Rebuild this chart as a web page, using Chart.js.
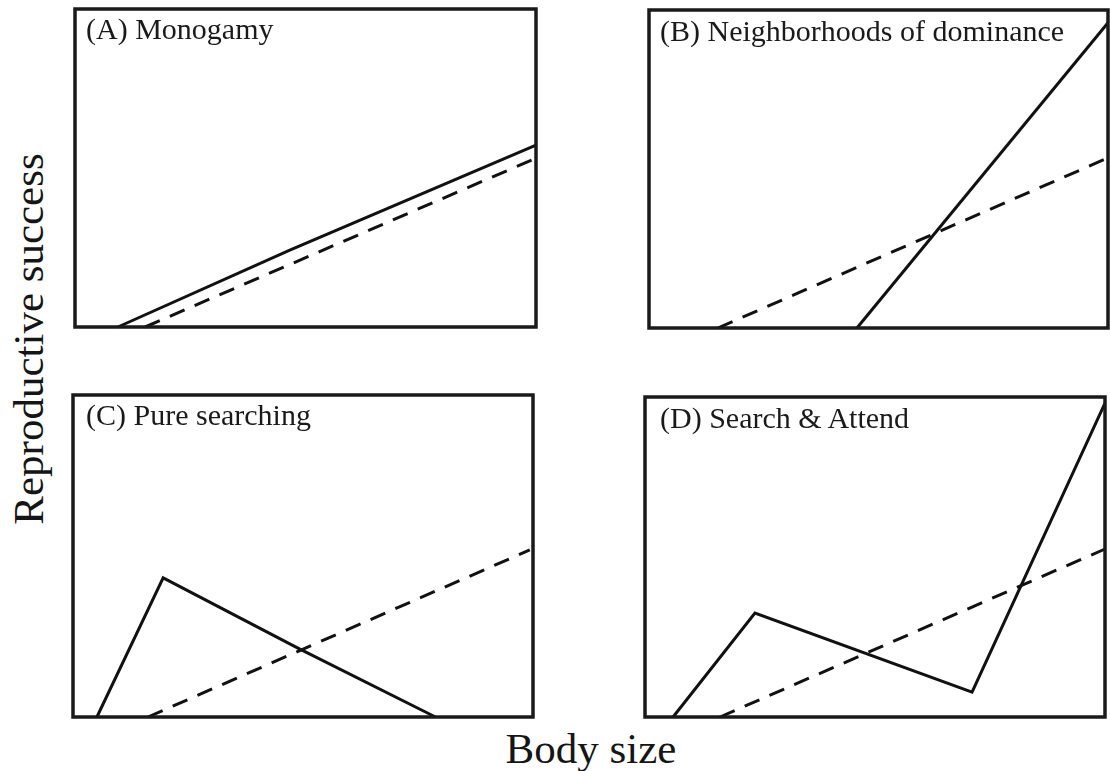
<!DOCTYPE html>
<html>
<head>
<meta charset="utf-8">
<script src="https://cdn.jsdelivr.net/npm/chart.js@4"></script>
<style>
  html, body { margin: 0; padding: 0; background: #fff; }
  body { width: 1110px; height: 771px; position: relative; overflow: hidden; font-family: 'Liberation Serif', 'DejaVu Serif', serif; color: #151515; }
  .panel { position: absolute; }
  .lbl { position: absolute; font-size: 30px; line-height: 30px; white-space: nowrap; color: #1a1a1a; }
  .axis { position: absolute; font-size: 43px; line-height: 43px; white-space: nowrap; color: #151515; }
</style>
</head>
<body>
<div class="panel" id="pA" style="left:73px;top:7px;width:465px;height:322px"><canvas id="cA"></canvas></div>
<div class="panel" id="pB" style="left:647px;top:8px;width:463px;height:322px"><canvas id="cB"></canvas></div>
<div class="panel" id="pC" style="left:71px;top:393px;width:464px;height:326px"><canvas id="cC"></canvas></div>
<div class="panel" id="pD" style="left:643px;top:395px;width:464px;height:324px"><canvas id="cD"></canvas></div>

<div class="lbl" style="left:86px;top:14px">(A) Monogamy</div>
<div class="lbl" style="left:660px;top:16px">(B) Neighborhoods of dominance</div>
<div class="lbl" style="left:86px;top:400px">(C) Pure searching</div>
<div class="lbl" style="left:660px;top:403px">(D) Search &amp; Attend</div>

<div class="axis" style="left:591px;top:727px;transform:translateX(-50%)">Body size</div>
<div class="axis" style="left:28px;top:339px;transform:translate(-50%,-50%) rotate(-90deg)">Reproductive success</div>

<script>
// Body size (x, 0-100) and reproductive success (y, 0-100)
const panelTitles = ['(A) Monogamy', '(B) Neighborhoods of dominance', '(C) Pure searching', '(D) Search & Attend'];

const sizeA_solid = [9.3, 46.6, 100];
const rsA_solid   = [0, 24.2, 57.2];
const sizeA_dash  = [15.2, 100];
const rsA_dash    = [0, 53.1];

const sizeB_solid = [45.3, 100];
const rsB_solid   = [0, 96];
const sizeB_dash  = [15.0, 100];
const rsB_dash    = [0, 53.5];

const sizeC_solid = [5.2, 19.6, 48.9, 78.8];
const rsC_solid   = [0, 43.2, 21.4, 0];
const sizeC_dash  = [16.3, 99.3];
const rsC_dash    = [0, 51.9];

const sizeD_solid = [6.1, 23.9, 71.1, 100];
const rsD_solid   = [0, 32.5, 7.8, 98.1];
const sizeD_dash  = [16.3, 100];
const rsD_dash    = [0, 52.5];

function pts(xs, ys) { return xs.map((x, i) => ({ x: x, y: ys[i] })); }

const framePlugin = {
  id: 'frame',
  afterDraw(chart) {
    const a = chart.chartArea, ctx = chart.ctx;
    ctx.save();
    ctx.strokeStyle = '#1a1a1a';
    ctx.lineWidth = 3.5;
    ctx.strokeRect(a.left, a.top, a.right - a.left, a.bottom - a.top);
    ctx.restore();
  }
};

function makePanel(id, sx, sy, dx, dy) {
  new Chart(document.getElementById(id), {
    type: 'scatter',
    data: {
      datasets: [
        { data: pts(sx, sy), showLine: true, borderColor: '#111', borderWidth: 3, pointRadius: 0, fill: false, tension: 0, clip: 2 },
        { data: pts(dx, dy), showLine: true, borderColor: '#111', borderWidth: 3, borderDash: [16, 11], pointRadius: 0, fill: false, tension: 0, clip: 2 }
      ]
    },
    options: {
      responsive: true,
      maintainAspectRatio: false,
      animation: false,
      layout: { padding: 2 },
      plugins: { legend: { display: false }, tooltip: { enabled: false }, title: { display: false } },
      scales: {
        x: { type: 'linear', min: 0, max: 100, display: false },
        y: { type: 'linear', min: 0, max: 100, display: false }
      }
    },
    plugins: [framePlugin]
  });
}

makePanel('cA', sizeA_solid, rsA_solid, sizeA_dash, rsA_dash);
makePanel('cB', sizeB_solid, rsB_solid, sizeB_dash, rsB_dash);
makePanel('cC', sizeC_solid, rsC_solid, sizeC_dash, rsC_dash);
makePanel('cD', sizeD_solid, rsD_solid, sizeD_dash, rsD_dash);
</script>
</body>
</html>
